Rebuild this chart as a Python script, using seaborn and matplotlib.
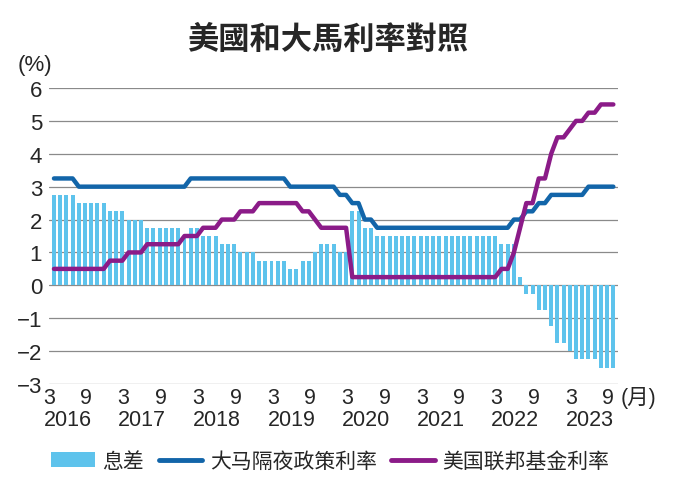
import numpy as np
import pandas as pd
import seaborn as sns
import matplotlib.pyplot as plt
from matplotlib.patches import Patch
from matplotlib.lines import Line2D
from matplotlib.font_manager import FontProperties

# monthly data, Mar 2016 .. Sep 2023
months = pd.date_range("2016-03-01", "2023-09-01", freq="MS")

spread = [
    2.75, 2.75, 2.75, 2.75, 2.5, 2.5, 2.5, 2.5, 2.5, 2.25,                      # 2016
    2.25, 2.25, 2.0, 2.0, 2.0, 1.75, 1.75, 1.75, 1.75, 1.75, 1.75, 1.5,        # 2017
    1.75, 1.75, 1.5, 1.5, 1.5, 1.25, 1.25, 1.25, 1.0, 1.0, 1.0, 0.75,          # 2018
    0.75, 0.75, 0.75, 0.75, 0.5, 0.5, 0.75, 0.75, 1.0, 1.25, 1.25, 1.25,       # 2019
    1.0, 1.0, 2.25, 2.25, 1.75, 1.75, 1.5, 1.5, 1.5, 1.5, 1.5, 1.5,            # 2020
    1.5, 1.5, 1.5, 1.5, 1.5, 1.5, 1.5, 1.5, 1.5, 1.5, 1.5, 1.5,                # 2021
    1.5, 1.5, 1.25, 1.25, 1.25, 0.25, -0.25, -0.25, -0.75, -0.75, -1.25, -1.75,  # 2022
    -1.75, -2.0, -2.25, -2.25, -2.25, -2.25, -2.5, -2.5, -2.5,                 # 2023
]

opr_my = [
    3.25, 3.25, 3.25, 3.25, 3.0, 3.0, 3.0, 3.0, 3.0, 3.0,
    3.0, 3.0, 3.0, 3.0, 3.0, 3.0, 3.0, 3.0, 3.0, 3.0, 3.0, 3.0,
    3.25, 3.25, 3.25, 3.25, 3.25, 3.25, 3.25, 3.25, 3.25, 3.25, 3.25, 3.25,
    3.25, 3.25, 3.25, 3.25, 3.0, 3.0, 3.0, 3.0, 3.0, 3.0, 3.0, 3.0,
    2.75, 2.75, 2.5, 2.5, 2.0, 2.0, 1.75, 1.75, 1.75, 1.75, 1.75, 1.75,
    1.75, 1.75, 1.75, 1.75, 1.75, 1.75, 1.75, 1.75, 1.75, 1.75, 1.75, 1.75,
    1.75, 1.75, 1.75, 1.75, 2.0, 2.0, 2.25, 2.25, 2.5, 2.5, 2.75, 2.75,
    2.75, 2.75, 2.75, 2.75, 3.0, 3.0, 3.0, 3.0, 3.0,
]

fed_us = [
    0.5, 0.5, 0.5, 0.5, 0.5, 0.5, 0.5, 0.5, 0.5, 0.75,
    0.75, 0.75, 1.0, 1.0, 1.0, 1.25, 1.25, 1.25, 1.25, 1.25, 1.25, 1.5,
    1.5, 1.5, 1.75, 1.75, 1.75, 2.0, 2.0, 2.0, 2.25, 2.25, 2.25, 2.5,
    2.5, 2.5, 2.5, 2.5, 2.5, 2.5, 2.25, 2.25, 2.0, 1.75, 1.75, 1.75,
    1.75, 1.75, 0.25, 0.25, 0.25, 0.25, 0.25, 0.25, 0.25, 0.25, 0.25, 0.25,
    0.25, 0.25, 0.25, 0.25, 0.25, 0.25, 0.25, 0.25, 0.25, 0.25, 0.25, 0.25,
    0.25, 0.25, 0.5, 0.5, 1.0, 1.75, 2.5, 2.5, 3.25, 3.25, 4.0, 4.5,
    4.5, 4.75, 5.0, 5.0, 5.25, 5.25, 5.5, 5.5, 5.5,
]

legend_labels = ["息差", "大马隔夜政策利率", "美国联邦基金利率"]
title = "美國和大馬利率對照"

BAR_C = "#5EC3EC"
MY_C = "#1265A9"
US_C = "#8B1B88"

sns.set_theme(style="white")
plt.rcParams['font.family'] = ['Liberation Sans', 'Noto Sans CJK SC']
plt.rcParams['axes.unicode_minus'] = True

df = pd.DataFrame({"month": months, "spread": spread, "opr": opr_my, "fed": fed_us})
df["idx"] = np.arange(len(df))

fig = plt.figure(figsize=(6.74, 4.81), dpi=100)
ax = fig.add_axes([49 / 674, 96 / 481, 569 / 674, 296 / 481])

sns.barplot(data=df, x="idx", y="spread", native_scale=True, width=0.64,
            color=BAR_C, saturation=1, errorbar=None, ax=ax, zorder=2,
            edgecolor="none", linewidth=0)
sns.lineplot(data=df, x="idx", y="opr", color=MY_C, lw=3.2, ax=ax,
             zorder=3, legend=False, solid_capstyle="round", solid_joinstyle="round")
sns.lineplot(data=df, x="idx", y="fed", color=US_C, lw=3.2, ax=ax,
             zorder=4, legend=False, solid_capstyle="round", solid_joinstyle="round")

ax.set_xlim(-0.75, 90.75)
ax.set_ylim(-3, 6)
ax.set_yticks(range(-3, 7))
for y in range(-3, 7):
    ax.axhline(y, color="#8a8a8a", lw=0.9, zorder=1)
for s in ax.spines.values():
    s.set_visible(False)
ax.set_xlabel("")
ax.set_ylabel("")
ax.tick_params(axis="y", length=0, pad=5, labelsize=16)

# month ticks (3 / 9) and year labels underneath
tick_idx = [i for i in df["idx"] if df["month"][i].month in (3, 9)]
ax.set_xticks([i - 0.8 for i in tick_idx])
ax.set_xticklabels([str(df["month"][i].month) for i in tick_idx])
ax.tick_params(axis="x", length=0, pad=2, labelsize=15.5)
trans = ax.get_xaxis_transform()
for i in tick_idx:
    if df["month"][i].month == 3:
        ax.text(i + 3 - 0.8, -0.12, str(df["month"][i].year), transform=trans,
                ha="center", va="center", fontsize=15.5)
ax.text(91.1, -0.043, "(月)", transform=trans, ha="left", va="center", fontsize=15.5,
        clip_on=False)

fig.text(35 / 674, 1 - 66 / 481, "(%)", ha="center", va="center", fontsize=16)
fig.text(328 / 674, 1 - 40 / 481, title, ha="center", va="center", fontsize=22.5,
         fontweight="bold", family=["Noto Sans CJK TC", "DejaVu Sans"])

handles = [
    Patch(facecolor=BAR_C, edgecolor="none"),
    Line2D([], [], color=MY_C, lw=3.5, solid_capstyle="round"),
    Line2D([], [], color=US_C, lw=3.5, solid_capstyle="round"),
]
fig.legend(handles, legend_labels, loc="center", bbox_to_anchor=(0.49, 1 - 462 / 481),
           ncol=3, frameon=False, prop=FontProperties(family="Noto Sans CJK SC", size=15),
           handlelength=2.1, handletextpad=0.35, columnspacing=0.7, borderpad=0)

fig.savefig("out.png", dpi=100)
